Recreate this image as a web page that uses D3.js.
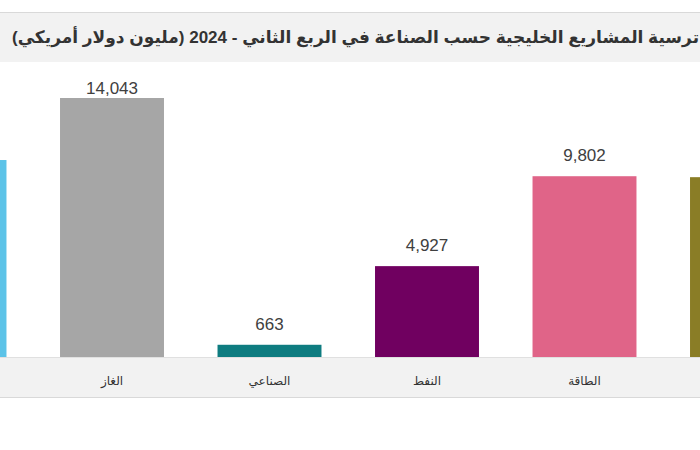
<!DOCTYPE html>
<html><head><meta charset="utf-8">
<script src="https://cdn.jsdelivr.net/npm/d3@7"></script>
<style>
html,body{margin:0;padding:0;background:#fff;}
svg{display:block;}
</style></head>
<body>
<svg id="chart" width="700" height="450"></svg>
<script>
const categories = ["البناء", "الغاز", "الصناعي", "النفط", "الطاقة", "النقل"];
const values = [10680, 14043, 663, 4927, 9802, 9750];
const colors = ["#5cc3e8", "#a6a6a6", "#0e7c80", "#700060", "#e06488", "#8a7d26"];
const title = "ترسية المشاريع الخليجية حسب الصناعة في الربع الثاني - 2024 (مليون دولار أمريكي)";

const svg = d3.select("#chart");
const W = 700, H = 450;
const baseY = 357, topY = 98;

// title band
svg.append("rect").attr("x", 0).attr("y", 12).attr("width", W).attr("height", 50).attr("fill", "#f2f2f2");
svg.append("line").attr("x1", 0).attr("x2", W).attr("y1", 12.5).attr("y2", 12.5).attr("stroke", "#d9d9d9");
svg.append("text")
  .attr("x", 12).attr("y", 43)
  .attr("direction", "rtl").attr("text-anchor", "end")
  .attr("font-family", "'Liberation Sans', 'DejaVu Sans', sans-serif")
  .attr("font-weight", "bold").attr("font-size", 17)
  .attr("fill", "#333")
  .text(title);

// axis band
svg.append("rect").attr("x", 0).attr("y", baseY).attr("width", W).attr("height", 40).attr("fill", "#f2f2f2");
svg.append("line").attr("x1", 0).attr("x2", W).attr("y1", 397.5).attr("y2", 397.5).attr("stroke", "#d9d9d9");
svg.append("line").attr("x1", 0).attr("x2", W).attr("y1", baseY + 0.5).attr("y2", baseY + 0.5).attr("stroke", "#e0e0e0");

const step = 157.5;
const x = d3.scaleBand().domain(categories)
  .range([-124.25, -124.25 + step * categories.length])
  .paddingInner(0.34).paddingOuter(0.17);
const y = d3.scaleLinear().domain([0, 14043]).range([baseY, topY]);

svg.selectAll("rect.bar").data(categories).join("rect")
  .attr("class", "bar")
  .attr("x", d => x(d)).attr("width", x.bandwidth())
  .attr("y", (d, i) => y(values[i])).attr("height", (d, i) => baseY - y(values[i]))
  .attr("fill", (d, i) => colors[i]);

const center = d => x(d) + x.bandwidth() / 2;
const visible = d => center(d) - 30 >= 0 && center(d) + 30 <= W;

svg.selectAll("text.val").data(categories.map((c, i) => ({c, v: values[i]})).filter(o => visible(o.c))).join("text")
  .attr("class", "val")
  .attr("x", o => center(o.c))
  .attr("y", o => Math.max(y(o.v) - 15, topY - 4))
  .attr("text-anchor", "middle")
  .attr("font-family", "'Liberation Sans', Arial, sans-serif")
  .attr("font-size", 17).attr("fill", "#404040")
  .text(o => d3.format(",")(o.v));

const xAxis = d3.axisBottom(x).tickSize(0).tickPadding(0);
const gx = svg.append("g").attr("transform", `translate(0,${baseY})`).call(xAxis);
gx.select(".domain").remove();
gx.selectAll(".tick").filter(d => !visible(d)).remove();
gx.selectAll("text")
  .attr("y", 28).attr("dy", 0)
  .attr("font-family", "'DejaVu Sans', sans-serif")
  .attr("font-size", 12).attr("fill", "#333");
</script>
</body></html>
